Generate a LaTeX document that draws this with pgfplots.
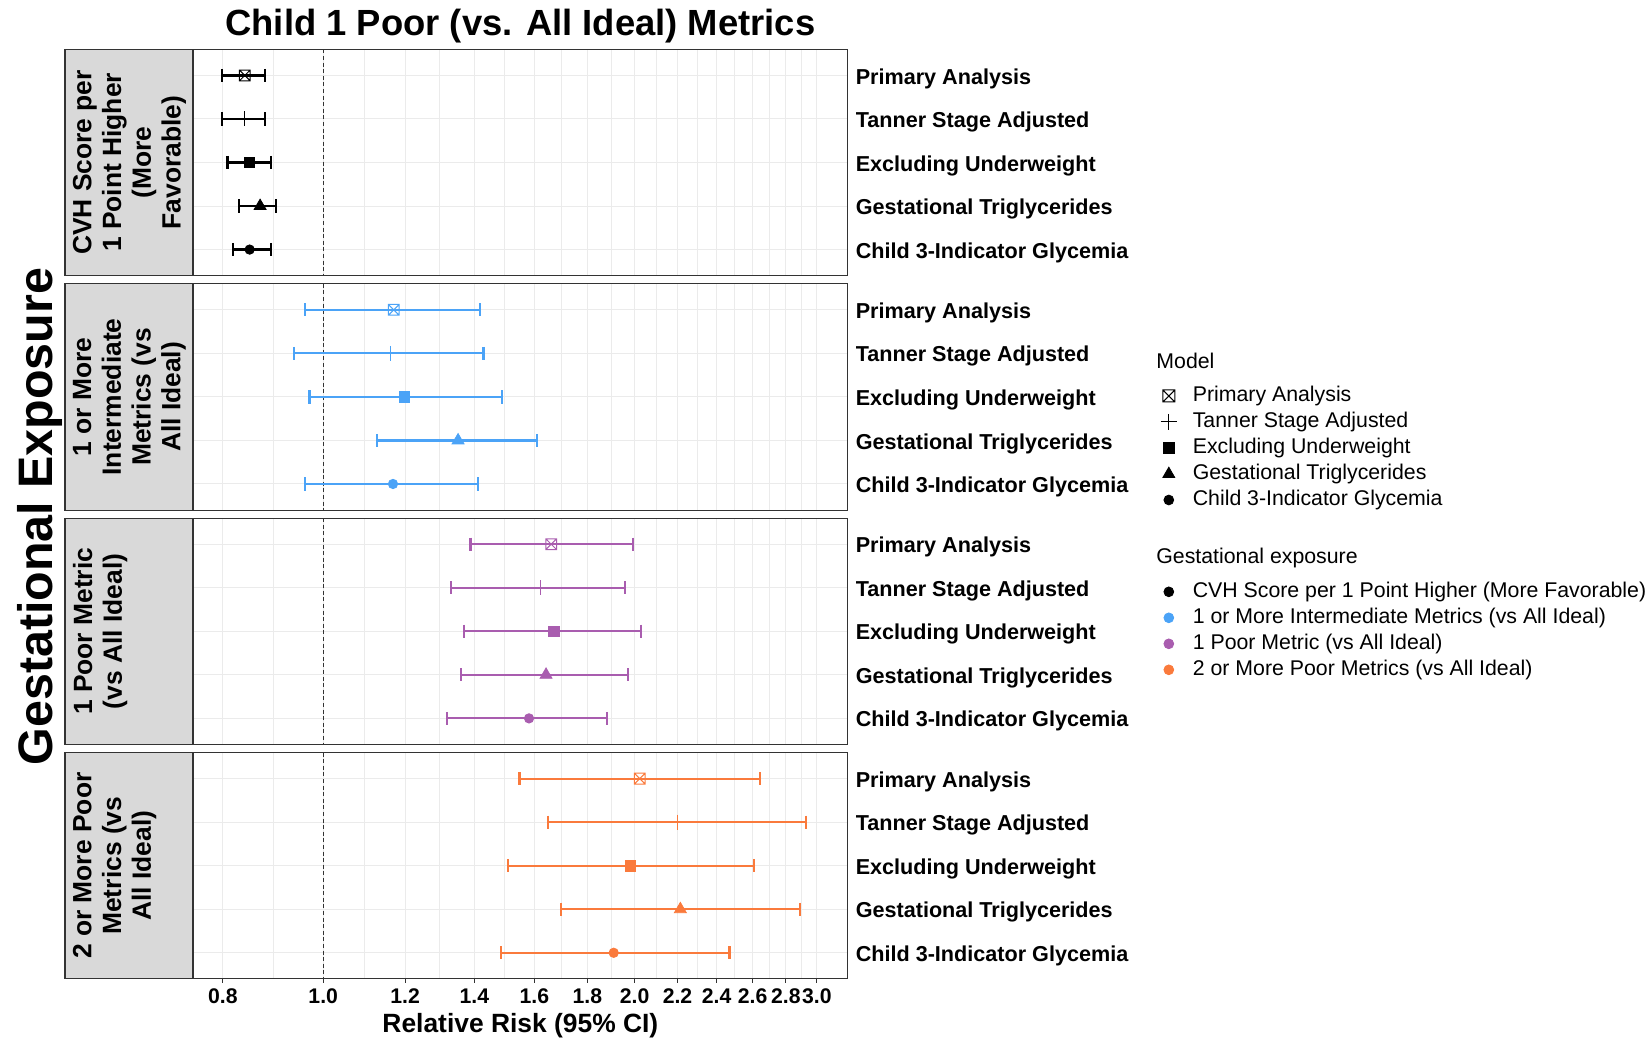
\documentclass[border=0pt]{standalone}
\usepackage{pgfplots}
\pgfplotsset{compat=1.18}
\usepackage{fontspec}
\setmainfont{Liberation Sans}
\definecolor{cblue}{HTML}{4BA3F7}
\definecolor{cpurp}{HTML}{A95DAF}
\definecolor{corng}{HTML}{FA7A3C}
\definecolor{gtwenty}{HTML}{333333}
\definecolor{gridc}{HTML}{EBEBEB}
\definecolor{stripc}{HTML}{D9D9D9}

\pgfdeclareplotmark{boxx}{%
  \pgfpathrectangle{\pgfqpoint{-\pgfplotmarksize}{-\pgfplotmarksize}}{\pgfqpoint{2\pgfplotmarksize}{2\pgfplotmarksize}}%
  \pgfpathmoveto{\pgfqpoint{-\pgfplotmarksize}{-\pgfplotmarksize}}%
  \pgfpathlineto{\pgfqpoint{\pgfplotmarksize}{\pgfplotmarksize}}%
  \pgfpathmoveto{\pgfqpoint{-\pgfplotmarksize}{\pgfplotmarksize}}%
  \pgfpathlineto{\pgfqpoint{\pgfplotmarksize}{-\pgfplotmarksize}}%
  \pgfusepathqstroke}

\pgfplotsset{
  /pgfplots/rrpanel/.style={
    scale only axis, width=327.4pt, height=113.2pt,
    xmin=0.7485, xmax=3.214, ymin=0.4, ymax=5.6, y dir=reverse,
    xtick={0.8,1.0,1.2,1.4,1.6,1.8,2.0,2.2,2.4,2.6,2.8,3.0},
    minor xtick={0.8944,1.0954,1.2961,1.4967,1.6971,1.8974,2.0976,2.2978,2.4980,2.6981,2.8983},
    ytick={1,2,3,4,5},
    yticklabels={Primary Analysis,Tanner Stage Adjusted,Excluding Underweight,Gestational Triglycerides,Child 3-Indicator Glycemia},
    yticklabel pos=right, ytick pos=right, xtick pos=bottom,
    xmajorgrids, xminorgrids, ymajorgrids,
    major grid style={draw=gridc, line width=0.5pt},
    minor grid style={draw=gridc, line width=0.3pt},
    axis line style={draw=gtwenty, line width=0.55pt},
    tick align=outside, major tick length=2pt, minor tick length=0pt,
    y tick style={draw=none},
    x tick style={draw=gtwenty, line width=0.5pt},
    yticklabel style={anchor=base west, inner sep=0pt, xshift=1.8pt, yshift=-4.3pt, font=\bfseries\fontsize{10.8}{13}\selectfont},
    xticklabel style={anchor=base, inner sep=0pt, yshift=-10.4pt, font=\bfseries\fontsize{10.6}{12}\selectfont},
  },
  /pgfplots/rrnolabels/.style={xticklabels={}, x tick style={draw=none}},
  /pgfplots/rrleg/.style={legend cell align=left,
      legend style={at={#1}, anchor=north west, draw=none, fill=none, inner sep=0pt,
      row sep=1pt, column sep=6pt, font=\fontsize{10.65}{12}\selectfont,
      nodes={inner sep=0pt, text height=9pt, text depth=3pt}}},
  /pgfplots/rrci/.style={color=#1, line width=1.1pt, mark=|, mark size=3.3pt, mark options={solid,line width=1.1pt}, unbounded coords=jump, forget plot},
  /pgfplots/rrref/.style={color=gtwenty, line width=0.5pt, dash pattern=on 2pt off 1.3pt, forget plot},
  /pgfplots/rrmA/.style={color=#1, only marks, mark=boxx, mark size=2.7pt, line width=0.5pt, forget plot},
  /pgfplots/rrmB/.style={color=#1, only marks, mark=+, mark size=3.75pt, line width=0.55pt, forget plot},
  /pgfplots/rrmC/.style={color=#1, only marks, mark=square*, mark size=2.6pt, forget plot},
  /pgfplots/rrmD/.style={color=#1, only marks, mark=triangle*, mark size=3.45pt, forget plot},
  /pgfplots/rrmE/.style={color=#1, only marks, mark=*, mark size=2.35pt, forget plot},
}
\newcommand{\rrlegimg}{%
  \pgfplotsset{legend image code/.code={\path[draw=none,fill=none] (0pt,-3pt) rectangle (12pt,3pt);
      \draw[mark repeat=2,mark phase=2,##1] plot coordinates {(0pt,0pt)(6pt,0pt)(12pt,0pt)};}}}

\begin{document}
\begin{tikzpicture}
\path[use as bounding box] (0pt,0pt) rectangle (826pt,-519.5pt);

% strips
\draw[fill=stripc, draw=gtwenty, line width=0.55pt] (32.5pt,-24.65pt) rectangle (96.5pt,-137.85pt);
\draw[fill=stripc, draw=gtwenty, line width=0.55pt] (32.5pt,-141.85pt) rectangle (96.5pt,-255.05pt);
\draw[fill=stripc, draw=gtwenty, line width=0.55pt] (32.5pt,-259.05pt) rectangle (96.5pt,-372.25pt);
\draw[fill=stripc, draw=gtwenty, line width=0.55pt] (32.5pt,-376.25pt) rectangle (96.5pt,-489.45pt);

% Panel 1
\begin{axis}[xmode=log, rrpanel, rrnolabels, at={(96.5pt,-24.65pt)}, anchor=north west]
\addplot[rrref] coordinates {(1,0.4) (1,5.6)};
\addplot[rrci=black] coordinates {(0.798,1)(0.879,1) (nan,nan) (0.798,2)(0.879,2) (nan,nan) (0.808,3)(0.890,3) (nan,nan) (0.829,4)(0.901,4) (nan,nan) (0.818,5)(0.890,5)};
\addplot[rrmA=black] coordinates {(0.840,1)};
\addplot[rrmB=black] coordinates {(0.840,2)};
\addplot[rrmC=black] coordinates {(0.849,3)};
\addplot[rrmD=black] coordinates {(0.869,4)};
\addplot[rrmE=black] coordinates {(0.849,5)};
\end{axis}

% Panel 2
\rrlegimg
\begin{axis}[xmode=log, rrpanel, rrnolabels, at={(96.5pt,-141.85pt)}, anchor=north west, rrleg={(1.4713,0.5588)}]
\addlegendimage{only marks, mark=boxx, mark size=3pt, black, line width=0.5pt}
\addlegendentry{Primary Analysis}
\addlegendimage{only marks, mark=+, mark size=4.1pt, black, line width=0.5pt}
\addlegendentry{Tanner Stage Adjusted}
\addlegendimage{only marks, mark=square*, mark size=2.65pt, black}
\addlegendentry{Excluding Underweight}
\addlegendimage{only marks, mark=triangle*, mark size=3.4pt, black}
\addlegendentry{Gestational Triglycerides}
\addlegendimage{only marks, mark=*, mark size=2.45pt, black}
\addlegendentry{Child 3-Indicator Glycemia}
\addplot[rrref] coordinates {(1,0.4) (1,5.6)};
\addplot[rrci=cblue] coordinates {(0.960,1)(1.418,1) (nan,nan) (0.937,2)(1.429,2) (nan,nan) (0.970,3)(1.488,3) (nan,nan) (1.128,4)(1.608,4) (nan,nan) (0.960,5)(1.411,5)};
\addplot[rrmA=cblue] coordinates {(1.170,1)};
\addplot[rrmB=cblue] coordinates {(1.161,2)};
\addplot[rrmC=cblue] coordinates {(1.198,3)};
\addplot[rrmD=cblue] coordinates {(1.350,4)};
\addplot[rrmE=cblue] coordinates {(1.168,5)};
\end{axis}

% Panel 3
\begin{axis}[xmode=log, rrpanel, rrnolabels, at={(96.5pt,-259.05pt)}, anchor=north west, rrleg={(1.4713,0.7292)}]
\addlegendimage{only marks, mark=*, mark size=2.45pt, black}
\addlegendentry{CVH Score per 1 Point Higher (More Favorable)}
\addlegendimage{only marks, mark=*, mark size=2.45pt, cblue}
\addlegendentry{1 or More Intermediate Metrics (vs All Ideal)}
\addlegendimage{only marks, mark=*, mark size=2.45pt, cpurp}
\addlegendentry{1 Poor Metric (vs All Ideal)}
\addlegendimage{only marks, mark=*, mark size=2.45pt, corng}
\addlegendentry{2 or More Poor Metrics (vs All Ideal)}
\addplot[rrref] coordinates {(1,0.4) (1,5.6)};
\addplot[rrci=cpurp] coordinates {(1.388,1)(1.994,1) (nan,nan) (1.328,2)(1.959,2) (nan,nan) (1.368,3)(2.029,3) (nan,nan) (1.359,4)(1.972,4) (nan,nan) (1.316,5)(1.881,5)};
\addplot[rrmA=cpurp] coordinates {(1.661,1)};
\addplot[rrmB=cpurp] coordinates {(1.622,2)};
\addplot[rrmC=cpurp] coordinates {(1.671,3)};
\addplot[rrmD=cpurp] coordinates {(1.642,4)};
\addplot[rrmE=cpurp] coordinates {(1.581,5)};
\end{axis}

% Panel 4
\begin{axis}[xmode=log, rrpanel, at={(96.5pt,-376.25pt)}, anchor=north west,
  xticklabels={0.8,1.0,1.2,1.4,1.6,1.8,2.0,2.2,2.4,2.6,2.8,3.0}]
\addplot[rrref] coordinates {(1,0.4) (1,5.6)};
\addplot[rrci=corng] coordinates {(1.548,1)(2.644,1) (nan,nan) (1.648,2)(2.931,2) (nan,nan) (1.510,3)(2.608,3) (nan,nan) (1.698,4)(2.892,4) (nan,nan) (1.486,5)(2.470,5)};
\addplot[rrmA=corng] coordinates {(2.023,1)};
\addplot[rrmB=corng] coordinates {(2.199,2)};
\addplot[rrmC=corng] coordinates {(1.980,3)};
\addplot[rrmD=corng] coordinates {(2.214,4)};
\addplot[rrmE=corng] coordinates {(1.909,5)};
\end{axis}

% strip texts
\node[rotate=90, anchor=north, inner sep=0pt, align=center, font=\bfseries\fontsize{13.2}{14.9}\selectfont] at (36.25pt,-81.25pt) {CVH Score per\\1 Point Higher\\(More\\Favorable)};
\node[rotate=90, anchor=north, inner sep=0pt, align=center, font=\bfseries\fontsize{13.2}{14.9}\selectfont] at (36.25pt,-198.45pt) {1 or More\\Intermediate\\Metrics (vs\\All Ideal)};
\node[rotate=90, anchor=north, inner sep=0pt, align=center, font=\bfseries\fontsize{13.2}{14.9}\selectfont] at (36.25pt,-315.65pt) {1 Poor Metric\\(vs All Ideal)};
\node[rotate=90, anchor=north, inner sep=0pt, align=center, font=\bfseries\fontsize{13.2}{14.9}\selectfont] at (36.25pt,-432.85pt) {2 or More Poor\\Metrics (vs\\All Ideal)};

% titles and labels
\node[anchor=base, font=\bfseries\fontsize{18.2}{22}\selectfont] at (260.2pt,-17.7pt) {Child 1 Poor (vs. All Ideal) Metrics};
\node[anchor=base, font=\bfseries\fontsize{13.2}{16}\selectfont] at (260.2pt,-516.2pt) {Relative Risk (95\% CI)};
\node[rotate=90, anchor=base, font=\bfseries\fontsize{24.2}{29}\selectfont] at (26pt,-258.3pt) {Gestational Exposure};
\node[anchor=base west, inner sep=0pt, font=\fontsize{10.65}{12}\selectfont] at (578pt,-184.2pt) {Model};
\node[anchor=base west, inner sep=0pt, font=\fontsize{10.65}{12}\selectfont] at (578pt,-281.7pt) {Gestational exposure};
\end{tikzpicture}
\end{document}
